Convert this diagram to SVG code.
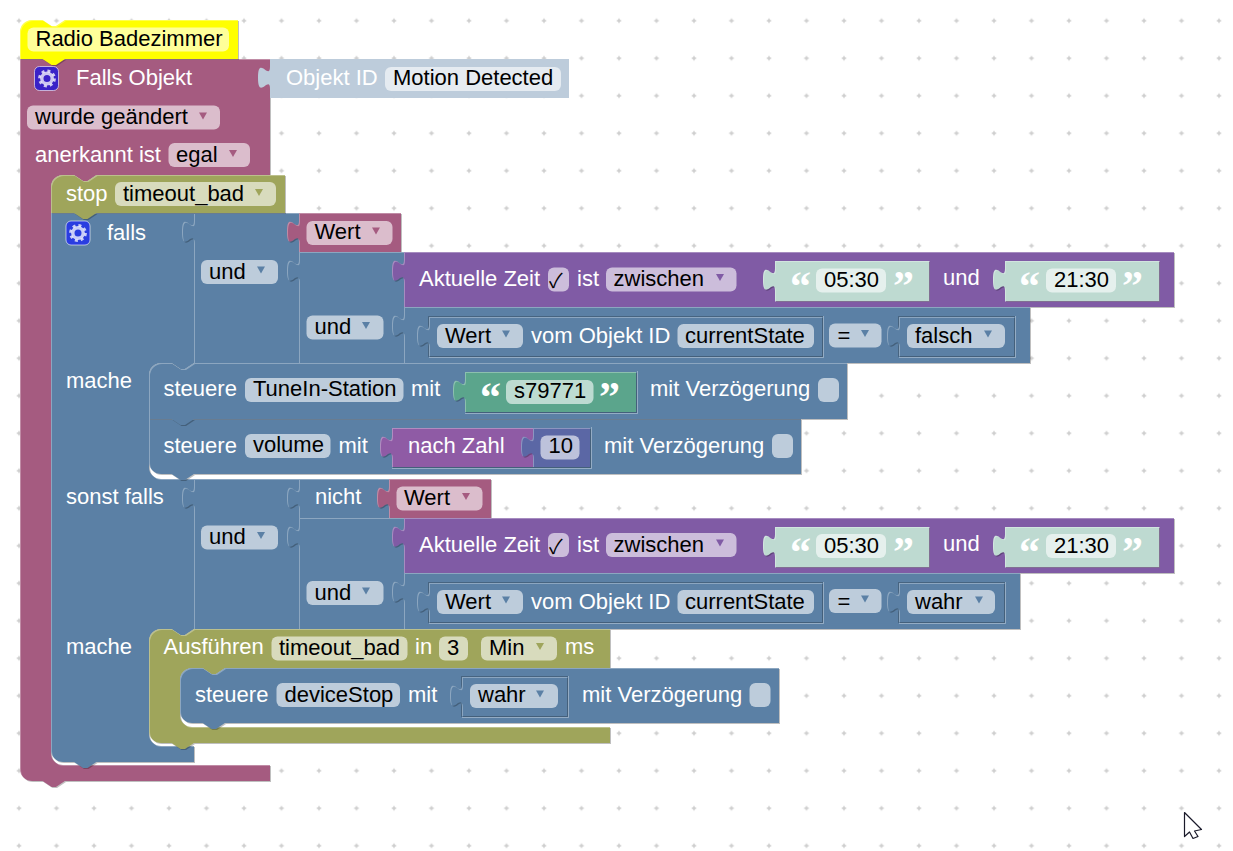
<svg xmlns="http://www.w3.org/2000/svg" width="1233" height="851" viewBox="0 0 1233 851">
<style>
text{font-family:"Liberation Sans",Arial,sans-serif;font-size:22px}
.t{fill:#fff}.f{fill:#000}
.q{font-family:"Liberation Serif",serif;font-weight:bold;font-size:42px;fill:#fff}
.c{font-family:"Noto Sans CJK JP","DejaVu Sans",sans-serif;font-size:20px;fill:#000}
.fd{fill:#fff;fill-opacity:.6}
.b{filter:url(#bevel)}
.red{fill:#a55b80}.blue{fill:#5b80a5}.olive{fill:#9fa55b}.purple{fill:#805ba5}.green{fill:#5ba58c}.lit{fill:#bedad1}.obj{fill:#bdccdb}.num{fill:#5b67a5}.mag{fill:#8f5ba5}
.ar-red{fill:#a55b80}.ar-blue{fill:#5b80a5}.ar-olive{fill:#9fa55b}.ar-purple{fill:#805ba5}
.sock{fill:none;stroke:#fff;stroke-opacity:.35}
.sockd{fill:none;stroke:#000;stroke-opacity:.22}
</style>
<defs>
<pattern id="grid" x="0.25" y="2" width="37.5" height="37.5" patternUnits="userSpaceOnUse">
<path d="M18.75,16.5v4.5M16.5,18.75h4.5" stroke="#ccc" stroke-width="1.4"/>
</pattern>
<filter id="bevel" filterUnits="userSpaceOnUse" x="0" y="0" width="1233" height="851" color-interpolation-filters="sRGB">
<feOffset in="SourceAlpha" dx="1" dy="1" result="a"/>
<feComposite in="SourceAlpha" in2="a" operator="out" result="tl"/>
<feFlood flood-color="#fff" flood-opacity=".3"/>
<feComposite in2="tl" operator="in" result="hl"/>
<feComposite in="a" in2="SourceAlpha" operator="out" result="br"/>
<feFlood flood-color="#000" flood-opacity=".25"/>
<feComposite in2="br" operator="in" result="dk"/>
<feMerge><feMergeNode in="SourceGraphic"/><feMergeNode in="hl"/><feMergeNode in="dk"/></feMerge>
</filter>
<polygon id="tri" points="0,0 8,0 4,7"/>
<g id="gear"><circle r="5.2" fill="none" stroke="#fff" stroke-opacity=".75" stroke-width="3.4"/><circle r="7.6" fill="none" stroke="#fff" stroke-opacity=".75" stroke-width="2.6" stroke-dasharray="3 3"/></g>
</defs>
<rect width="1233" height="851" fill="#fff"/>
<rect width="1233" height="851" fill="url(#grid)"/>

<g id="falls-objekt">
<path class="b red" d="M20,59H270V175H96.5l-9,6 -4.5,0 -9,-6H63A12,12 0 0 0 51,187V753A12,12 0 0 0 63,765H270V781H65l-9,6 -4.5,0 -9,-6H32A12,12 0 0 1 20,769Z"/>
<rect x="34.5" y="66.5" width="24" height="24" rx="5" fill="#3a22c8" stroke="#fff" stroke-opacity=".6"/>
<use href="#gear" x="47" y="78.5"/>
<text class="t" x="76" y="85">Falls Objekt</text>
<rect class="fd" x="27" y="105.5" width="193" height="24" rx="6"/>
<text class="f" x="35" y="124">wurde geändert</text>
<use href="#tri" class="ar-red" x="199" y="112.5"/>
<text class="t" x="35" y="162">anerkannt ist</text>
<rect class="fd" x="168.5" y="143" width="81.5" height="24" rx="6"/>
<text class="f" x="176" y="162">egal</text>
<use href="#tri" class="ar-red" x="229" y="150"/>
</g>
<g id="objekt-id">
<path class="obj" d="M270,59H569V98H270V89c0,-15 -12,12 -12,-11.25s12,3.75 12,-11.25Z"/>
<text class="t" x="286" y="85">Objekt ID</text>
<rect class="fd" x="385" y="67" width="176" height="24" rx="6"/>
<text class="f" x="393" y="85">Motion Detected</text>
</g>
<g id="falls">
<path class="b blue" d="M51,213H194V363l-9,6 -4.5,0 -9,-6H161A12,12 0 0 0 149,375V467A12,12 0 0 0 161,479H194V629l-9,6 -4.5,0 -9,-6H161A12,12 0 0 0 149,641V734A12,12 0 0 0 161,746H194V762H96.5l-9,6 -4.5,0 -9,-6H63A12,12 0 0 1 51,750Z"/>
<rect x="66" y="221" width="24" height="24" rx="5" fill="#2a3de0" stroke="#fff" stroke-opacity=".6"/>
<use href="#gear" x="78" y="233"/>
<text class="t" x="107" y="240">falls</text>
<text class="t" x="66" y="388">mache</text>
<text class="t" x="66" y="504">sonst falls</text>
<text class="t" x="66" y="654">mache</text>
</g>
<g id="und-1">
<path class="b blue" d="M194,213H299V363H194V243c0,-15 -12,12 -12,-11.25s12,3.75 12,-11.25Z"/>
<rect class="fd" x="201" y="260" width="77" height="24" rx="6"/>
<text class="f" x="209" y="279">und</text>
<use href="#tri" class="ar-blue" x="257" y="266.5"/>
</g>
<g id="wert-1">
<path class="b red" d="M299,213H401V252H299V243c0,-15 -12,12 -12,-11.25s12,3.75 12,-11.25Z"/>
<rect class="fd" x="306.5" y="221" width="86" height="24" rx="6"/>
<text class="f" x="314.5" y="239">Wert</text>
<use href="#tri" class="ar-red" x="372" y="227.5"/>
</g>
<g id="und-2">
<path class="b blue" d="M299,252H404V363H299V282c0,-15 -12,12 -12,-11.25s12,3.75 12,-11.25Z"/>
<rect class="fd" x="306.5" y="315.5" width="77" height="24" rx="6"/>
<text class="f" x="314.5" y="334">und</text>
<use href="#tri" class="ar-blue" x="362" y="322"/>
</g>
<g id="zeit-1">
<path class="b purple" d="M404,252H1174V307H404V282c0,-15 -12,12 -12,-11.25s12,3.75 12,-11.25Z"/>
<path class="sock" d="M775,301.5H929.5V261M1005,301.5H1159.5V261"/>
<text class="t" x="419" y="286">Aktuelle Zeit</text>
<rect class="fd" x="548" y="267.5" width="21" height="24" rx="6"/>
<text class="c" x="549" y="288">✓</text>
<text class="t" x="577" y="286">ist</text>
<rect class="fd" x="606" y="267.5" width="130.5" height="24" rx="6"/>
<text class="f" x="613.5" y="286">zwischen</text>
<use href="#tri" class="ar-purple" x="716" y="274"/>
<text class="t" x="943" y="285">und</text>
</g>
<g id="lit-0530-1">
<path class="b lit" d="M775,261H929V301H775V291c0,-15 -12,12 -12,-11.25s12,3.75 12,-11.25Z"/>
<text class="q" x="790" y="300">“</text>
<rect class="fd" x="816" y="268.5" width="70" height="24" rx="6"/>
<text class="f" x="824" y="287">05:30</text>
<text class="q" x="893" y="300">”</text>
</g>
<g id="lit-2130-1">
<path class="b lit" d="M1005,261H1159V301H1005V291c0,-15 -12,12 -12,-11.25s12,3.75 12,-11.25Z"/>
<text class="q" x="1019" y="300">“</text>
<rect class="fd" x="1046" y="268.5" width="70" height="24" rx="6"/>
<text class="f" x="1054" y="287">21:30</text>
<text class="q" x="1122" y="300">”</text>
</g>
<g id="vergleich-1">
<path class="b blue" d="M404,307H1030V363H404V337c0,-15 -12,12 -12,-11.25s12,3.75 12,-11.25Z"/>
<path class="sock" d="M429,357.5H823.5V316M899,357.5H1015.5V316"/>
<path class="sockd" d="M428.5,357V316.5H823M898.5,357V316.5H1015"/>
<rect class="fd" x="829" y="323.5" width="52.5" height="24" rx="6"/>
<text class="f" x="837.5" y="343">=</text>
<use href="#tri" class="ar-blue" x="861" y="330"/>
</g>
<g id="wert-objekt-1">
<path class="b blue" d="M429,317H822V356H429V347c0,-15 -12,12 -12,-11.25s12,3.75 12,-11.25Z"/>
<rect class="fd" x="437" y="324" width="86" height="24" rx="6"/>
<text class="f" x="445" y="343">Wert</text>
<use href="#tri" class="ar-blue" x="502" y="330.5"/>
<text class="t" x="531" y="343">vom Objekt ID</text>
<rect class="fd" x="677.5" y="324" width="136.5" height="24" rx="6"/>
<text class="f" x="685" y="343">currentState</text>
</g>
<g id="falsch">
<path class="b blue" d="M899,317H1014V356H899V347c0,-15 -12,12 -12,-11.25s12,3.75 12,-11.25Z"/>
<rect class="fd" x="907" y="324" width="98" height="24" rx="6"/>
<text class="f" x="915" y="343">falsch</text>
<use href="#tri" class="ar-blue" x="984" y="330.5"/>
</g>
<g id="und-3">
<path class="b blue" d="M194,479H299V629H194V509c0,-15 -12,12 -12,-11.25s12,3.75 12,-11.25Z"/>
<rect class="fd" x="201" y="525.5" width="77" height="24" rx="6"/>
<text class="f" x="209" y="544">und</text>
<use href="#tri" class="ar-blue" x="257" y="532"/>
</g>
<g id="nicht">
<path class="b blue" d="M299,479H389V518H299V509c0,-15 -12,12 -12,-11.25s12,3.75 12,-11.25Z"/>
<text class="t" x="315" y="504">nicht</text>
</g>
<g id="wert-2">
<path class="b red" d="M389,479H491V518H389V509c0,-15 -12,12 -12,-11.25s12,3.75 12,-11.25Z"/>
<rect class="fd" x="396.5" y="486.5" width="86" height="24" rx="6"/>
<text class="f" x="404" y="505">Wert</text>
<use href="#tri" class="ar-red" x="462" y="493"/>
</g>
<g id="und-4">
<path class="b blue" d="M299,518H404V629H299V548c0,-15 -12,12 -12,-11.25s12,3.75 12,-11.25Z"/>
<rect class="fd" x="306.5" y="581" width="77" height="24" rx="6"/>
<text class="f" x="314.5" y="600">und</text>
<use href="#tri" class="ar-blue" x="362" y="587.5"/>
</g>
<g id="zeit-2">
<path class="b purple" d="M404,518H1174V573H404V548c0,-15 -12,12 -12,-11.25s12,3.75 12,-11.25Z"/>
<path class="sock" d="M775,567.5H929.5V527M1005,567.5H1159.5V527"/>
<text class="t" x="419" y="551.5">Aktuelle Zeit</text>
<rect class="fd" x="548" y="533" width="21" height="24" rx="6"/>
<text class="c" x="549" y="553.5">✓</text>
<text class="t" x="577" y="551.5">ist</text>
<rect class="fd" x="606" y="533" width="130.5" height="24" rx="6"/>
<text class="f" x="613.5" y="551.5">zwischen</text>
<use href="#tri" class="ar-purple" x="716" y="539.5"/>
<text class="t" x="943" y="551">und</text>
</g>
<g id="lit-0530-2">
<path class="b lit" d="M775,527H929V567H775V557c0,-15 -12,12 -12,-11.25s12,3.75 12,-11.25Z"/>
<text class="q" x="790" y="566">“</text>
<rect class="fd" x="816" y="534" width="70" height="24" rx="6"/>
<text class="f" x="824" y="552.5">05:30</text>
<text class="q" x="893" y="566">”</text>
</g>
<g id="lit-2130-2">
<path class="b lit" d="M1005,527H1159V567H1005V557c0,-15 -12,12 -12,-11.25s12,3.75 12,-11.25Z"/>
<text class="q" x="1019" y="566">“</text>
<rect class="fd" x="1046" y="534" width="70" height="24" rx="6"/>
<text class="f" x="1054" y="552.5">21:30</text>
<text class="q" x="1122" y="566">”</text>
</g>
<g id="vergleich-2">
<path class="b blue" d="M404,573H1020V629H404V603c0,-15 -12,12 -12,-11.25s12,3.75 12,-11.25Z"/>
<path class="sock" d="M429,623.5H823.5V582M899,623.5H1005.5V582"/>
<path class="sockd" d="M428.5,623V582.5H823M898.5,623V582.5H1005"/>
<rect class="fd" x="829" y="589" width="52.5" height="24" rx="6"/>
<text class="f" x="837.5" y="608.5">=</text>
<use href="#tri" class="ar-blue" x="861" y="595.5"/>
</g>
<g id="wert-objekt-2">
<path class="b blue" d="M429,583H822V622H429V613c0,-15 -12,12 -12,-11.25s12,3.75 12,-11.25Z"/>
<rect class="fd" x="437" y="590" width="86" height="24" rx="6"/>
<text class="f" x="445" y="608.5">Wert</text>
<use href="#tri" class="ar-blue" x="502" y="596.5"/>
<text class="t" x="531" y="608.5">vom Objekt ID</text>
<rect class="fd" x="677.5" y="590" width="136.5" height="24" rx="6"/>
<text class="f" x="685" y="608.5">currentState</text>
</g>
<g id="wahr-1">
<path class="b blue" d="M899,583H1004V622H899V613c0,-15 -12,12 -12,-11.25s12,3.75 12,-11.25Z"/>
<rect class="fd" x="907" y="590" width="88" height="24" rx="6"/>
<text class="f" x="915" y="608.5">wahr</text>
<use href="#tri" class="ar-blue" x="975" y="596.5"/>
</g>
<g id="steuere-volume">
<path class="b blue" d="M149,419H801V474H194l-9,6 -4.5,0 -9,-6H161A12,12 0 0 1 149,462Z"/>
<path class="sock" d="M392,468.5H591.5V427"/>
<text class="t" x="163.5" y="453">steuere</text>
<rect class="fd" x="245" y="434" width="85.5" height="24" rx="6"/>
<text class="f" x="253" y="452">volume</text>
<text class="t" x="338.5" y="453">mit</text>
<text class="t" x="604" y="453">mit Verzögerung</text>
<rect class="fd" x="772" y="434" width="21" height="24" rx="6"/>
</g>
<g id="nach-zahl">
<path class="b mag" d="M392,428H533V467H392V458c0,-15 -12,12 -12,-11.25s12,3.75 12,-11.25Z"/>
<text class="t" x="408" y="453">nach Zahl</text>
</g>
<g id="zahl-10">
<path class="b num" d="M533,428H590V467H533V458c0,-15 -12,12 -12,-11.25s12,3.75 12,-11.25Z"/>
<rect class="fd" x="540.5" y="435.5" width="39" height="24" rx="6"/>
<text class="f" x="548.5" y="453">10</text>
</g>
<g id="steuere-tunein">
<path class="b blue" d="M149,375A12,12 0 0 1 161,363H171.5l9,6 4.5,0 9,-6H847V419H194l-9,6 -4.5,0 -9,-6H149Z"/>
<path class="sock" d="M465,413.5H637.5V371"/>
<text class="t" x="163.5" y="396">steuere</text>
<rect class="fd" x="245" y="378" width="158.5" height="24" rx="6"/>
<text class="f" x="253" y="396">TuneIn-Station</text>
<text class="t" x="411" y="396">mit</text>
<text class="t" x="650" y="396">mit Verzögerung</text>
<rect class="fd" x="818" y="378" width="21" height="24" rx="6"/>
</g>
<g id="s79771">
<path class="b green" d="M465,372H636V412H465V402c0,-15 -12,12 -12,-11.25s12,3.75 12,-11.25Z"/>
<text class="q" x="480" y="411">“</text>
<rect class="fd" x="506" y="380" width="87.5" height="24" rx="6"/>
<text class="f" x="514" y="398">s79771</text>
<text class="q" x="599" y="411">”</text>
</g>
<g id="ausfuehren">
<path class="b olive" d="M149,641A12,12 0 0 1 161,629H171.5l9,6 4.5,0 9,-6H610V668H225l-9,6 -4.5,0 -9,-6H192A12,12 0 0 0 180,680V715A12,12 0 0 0 192,727H610V743H194l-9,6 -4.5,0 -9,-6H161A12,12 0 0 1 149,731Z"/>
<text class="t" x="163.5" y="654">Ausführen</text>
<rect class="fd" x="271.5" y="636.5" width="136" height="24" rx="6"/>
<text class="f" x="279" y="655">timeout_bad</text>
<text class="t" x="415" y="654">in</text>
<rect class="fd" x="439" y="636.5" width="29" height="24" rx="6"/>
<text class="f" x="447" y="655">3</text>
<rect class="fd" x="481" y="636.5" width="76" height="24" rx="6"/>
<text class="f" x="489" y="655">Min</text>
<use href="#tri" class="ar-olive" x="536" y="643"/>
<text class="t" x="565" y="654">ms</text>
</g>
<g id="steuere-devicestop">
<path class="b blue" d="M180,680A12,12 0 0 1 192,668H202.5l9,6 4.5,0 9,-6H779V723H225l-9,6 -4.5,0 -9,-6H192A12,12 0 0 1 180,711Z"/>
<text class="t" x="195" y="701.5">steuere</text>
<rect class="fd" x="276.5" y="683" width="123.5" height="24" rx="6"/>
<text class="f" x="284.5" y="701.5">deviceStop</text>
<text class="t" x="408" y="701.5">mit</text>
<text class="t" x="582" y="701.5">mit Verzögerung</text>
<rect class="fd" x="749.5" y="683" width="21" height="24" rx="6"/>
<path class="sock" d="M462,717.5H568.5V676"/>
<path class="sockd" d="M461.5,717V676.5H568"/>
</g>
<g id="wahr-2">
<path class="b blue" d="M462,677H567V716H462V707c0,-15 -12,12 -12,-11.25s12,3.75 12,-11.25Z"/>
<rect class="fd" x="470" y="684" width="88" height="24" rx="6"/>
<text class="f" x="478" y="702">wahr</text>
<use href="#tri" class="ar-blue" x="536" y="690.5"/>
</g>
<g id="stop">
<path class="b olive" d="M51,187A12,12 0 0 1 63,175H74l9,6 4.5,0 9,-6H285V213H96.5l-9,6 -4.5,0 -9,-6H51Z"/>
<text class="t" x="66" y="201">stop</text>
<rect class="fd" x="115" y="182" width="161" height="24" rx="6"/>
<text class="f" x="123" y="201">timeout_bad</text>
<use href="#tri" class="ar-olive" x="255" y="189"/>
</g>
<g id="radio-badezimmer">
<path d="M20,59V32A12,12 0 0 1 32,20H42.5l9,6 4.5,0 9,-6H238V59H65l-9,6 -4.5,0 -9,-6Z" fill="#ff0" class="b"/>
<rect class="fd" x="27.5" y="27.5" width="201.5" height="24" rx="6"/>
<text class="f" x="35.5" y="46">Radio Badezimmer</text>
</g>
<path d="M1184.5,812.5L1201.5,829.5L1194.5,831L1198,836.5L1193,838.5L1189.5,832L1184.5,836.5Z" fill="#fff" stroke="#1a1a2a" stroke-width="1.2" stroke-linejoin="round"/>
</svg>
